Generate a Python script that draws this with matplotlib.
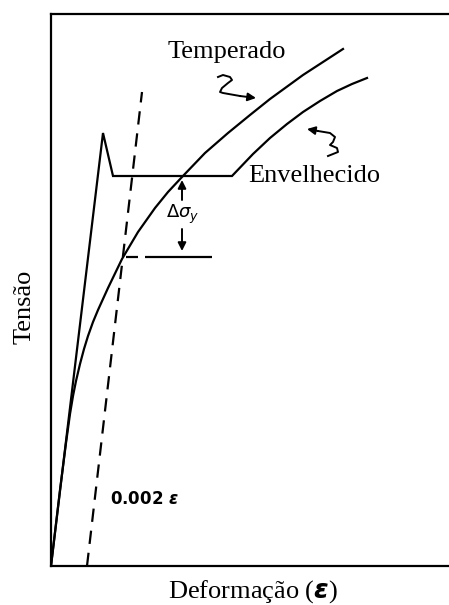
import matplotlib
matplotlib.use("Agg")
import matplotlib.pyplot as plt

plt.rcParams['mathtext.fontset'] = 'custom'
plt.rcParams['mathtext.rm'] = 'DejaVu Sans'
plt.rcParams['mathtext.it'] = 'DejaVu Sans:italic'
plt.rcParams['mathtext.bf'] = 'DejaVu Sans:bold'
plt.rcParams['mathtext.bfit'] = 'DejaVu Sans:italic:bold'

# Schematic data (arbitrary units: strain, stress)
temperado_x = [0, 9, 15, 19, 22, 25, 29, 33, 37, 42, 47, 57, 71, 87, 104, 117, 131, 154, 177, 199, 219, 252, 292]
temperado_y = [0, 76, 123, 152, 170, 185, 202, 217, 230, 244, 256, 278, 307, 334, 358, 374, 389, 413, 433, 451, 467, 491, 517]

envelhecido_x = [0, 52, 62, 181, 202, 219, 236, 252, 269, 286, 301, 316]
envelhecido_y = [0, 433, 390, 390, 412, 428, 442, 454, 465, 475, 482, 488]

offset_x = [36, 91]
offset_y = [0, 474]

yield_low = 309
yield_low_x1 = [75, 87]
yield_low_x2 = [94, 161]

delta_x = 131
arrow_up = (366, 386)
arrow_down = (337, 315)

squig_t_x = [167, 172, 179, 181, 177, 171, 169, 172, 189, 205]
squig_t_y = [489, 491, 489, 486, 483, 478, 474, 473, 470, 468]

squig_e_x = [277, 287, 286, 279, 282, 284, 279, 267, 256]
squig_e_y = [410, 414, 418, 421, 424, 429, 433, 435, 437]

W, H = 449, 605
fig = plt.figure(figsize=(W / 100, H / 100), dpi=100)
ax = fig.add_axes([51 / W, (H - 566) / H, (W - 51) / W, (566 - 14) / H])
ax.set_xlim(0, 398)
ax.set_ylim(0, 552)
ax.set_xticks([])
ax.set_yticks([])
ax.spines['right'].set_visible(False)
for s in ['left', 'top', 'bottom']:
    ax.spines[s].set_linewidth(1.6)

lw = 1.6
ax.plot(temperado_x, temperado_y, color='k', lw=lw, solid_joinstyle='round')
ax.plot(envelhecido_x, envelhecido_y, color='k', lw=lw, solid_joinstyle='miter')
ax.plot(offset_x, offset_y, color='k', lw=lw, linestyle=(0, (6, 4)))
ax.plot(yield_low_x1, [yield_low] * 2, color='k', lw=lw, solid_capstyle='butt')
ax.plot(yield_low_x2, [yield_low] * 2, color='k', lw=lw, solid_capstyle='butt')

ap = dict(arrowstyle='-|>', color='k', lw=1.4, mutation_scale=12, shrinkA=0, shrinkB=0)
ax.annotate('', xy=(delta_x, arrow_up[1]), xytext=(delta_x, arrow_up[0]), arrowprops=ap)
ax.annotate('', xy=(delta_x, arrow_down[1]), xytext=(delta_x, arrow_down[0]), arrowprops=ap)
ax.text(delta_x + 1, 352, r'$\Delta\sigma_y$', ha='center', va='center', fontsize=13, fontweight='bold')

ax.plot(squig_t_x[:-1], squig_t_y[:-1], color='k', lw=1.4, solid_joinstyle='round')
ax.annotate('', xy=(squig_t_x[-1], squig_t_y[-1]), xytext=(squig_t_x[-2], squig_t_y[-2]), arrowprops=ap)
ax.plot(squig_e_x[:-1], squig_e_y[:-1], color='k', lw=1.4, solid_joinstyle='round')
ax.annotate('', xy=(squig_e_x[-1], squig_e_y[-1]), xytext=(squig_e_x[-2], squig_e_y[-2]), arrowprops=ap)

serif = 'Liberation Serif'
ax.text(117, 514, 'Temperado', ha='left', va='center', fontsize=19, family=serif)
ax.text(197, 390, 'Envelhecido', ha='left', va='center', fontsize=19, family=serif)
ax.text(59, 67, r'0.002 $\mathbfit{\epsilon}$', ha='left', va='center', fontsize=12, fontweight='bold')

fig.text(25 / W, 1 - 307 / H, 'Tensão', rotation=90, ha='center', va='center', fontsize=19, family=serif)
fig.text(253 / W, 1 - 592 / H, r'Deformação ($\mathbfit{\varepsilon}$)', ha='center', va='center', fontsize=19, family=serif)

fig.savefig('out.png', dpi=100)
